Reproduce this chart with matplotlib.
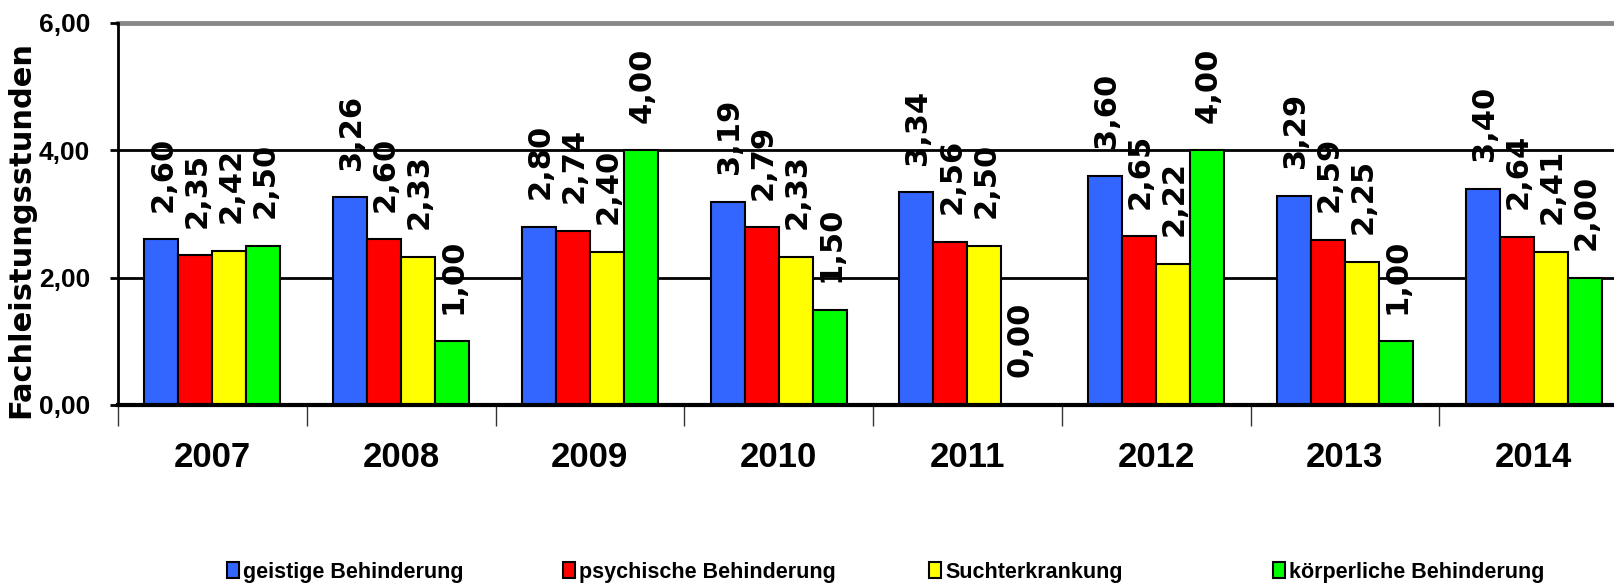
import matplotlib
matplotlib.use("Agg")
import matplotlib.pyplot as plt
import numpy as np

years = ["2007", "2008", "2009", "2010", "2011", "2012", "2013", "2014"]
series_names = ["geistige Behinderung", "psychische Behinderung",
                "Suchterkrankung", "körperliche Behinderung"]
geistige = [2.60, 3.26, 2.80, 3.19, 3.34, 3.60, 3.29, 3.40]
psychische = [2.35, 2.60, 2.74, 2.79, 2.56, 2.65, 2.59, 2.64]
sucht = [2.42, 2.33, 2.40, 2.33, 2.50, 2.22, 2.25, 2.41]
koerper = [2.50, 1.00, 4.00, 1.50, 0.00, 4.00, 1.00, 2.00]
colors = ["#3366FF", "#FF0000", "#FFFF00", "#00FF00"]

narrow = ["Liberation Sans", "DejaVu Sans"]

fig = plt.figure(figsize=(16.14, 5.88), dpi=100)
# axes run past the right edge, like the cropped original
ax = fig.add_axes([118 / 1614, 183 / 588, 1510 / 1614, 382 / 588])

x = np.arange(len(years))
w = 0.18
bars = []
for i, (vals, c) in enumerate(zip([geistige, psychische, sucht, koerper], colors)):
    b = ax.bar(x + (i - 1.5) * w, vals, w, color=c, edgecolor="black",
               linewidth=1.5, zorder=3, label=series_names[i])
    bars.append(b)
    for xi, v in zip(x + (i - 1.5) * w, vals):
        ax.annotate(f"{v:.2f}".replace(".", ","), (xi, v), xytext=(1, 20),
                    textcoords="offset points", rotation=90, ha="center",
                    va="bottom", fontsize=22, fontweight="bold",
                    family="DejaVu Sans", zorder=4)

ax.set_xlim(-0.5, 7.5)
ax.set_ylim(0, 6)
ax.set_yticks([0, 2, 4, 6])
ax.set_yticklabels(["0,00", "2,00", "4,00", "6,00"])
for t in ax.get_yticklabels():
    t.set_family(narrow)
    t.set_fontweight("bold")
    t.set_fontsize(19)
ax.tick_params(axis="y", length=6, width=2, color="black", pad=14)

ax.set_xticks(np.arange(-0.5, 8, 1))
ax.set_xticklabels([])
ax.set_xticks(x, minor=True)
ax.set_xticklabels(years, minor=True, family=narrow, fontweight="bold", fontsize=25)
ax.tick_params(axis="x", which="major", length=15, width=1, color="#333333")
ax.tick_params(axis="x", which="minor", length=0, pad=26)

for yv in [2, 4]:
    ax.axhline(yv, color="black", linewidth=2, zorder=1)
ax.axhline(6, color="#888888", linewidth=3.5, zorder=1, clip_on=False)

for s in ["top", "right"]:
    ax.spines[s].set_visible(False)
ax.spines["left"].set_linewidth(2)
ax.spines["bottom"].set_linewidth(3)
ax.spines["bottom"].set_zorder(5)

ax.set_ylabel("Fachleistungsstunden", fontsize=22, fontweight="bold",
              family="DejaVu Sans", va="center")
ax.yaxis.set_label_coords(-0.0645, 0.46)

# legend entries, each placed on its own
leg_x = [227, 563, 929, 1273]
for b, name, lx in zip(bars, series_names, leg_x):
    fig.legend([b], [name], loc="center left",
               bbox_to_anchor=(lx / 1614, 0.027), frameon=False,
               borderpad=0, borderaxespad=0, handlelength=0.55,
               handleheight=0.8, handletextpad=0.2,
               prop={"family": narrow, "weight": "bold", "size": 15.5})

fig.savefig("out.png", dpi=100)
